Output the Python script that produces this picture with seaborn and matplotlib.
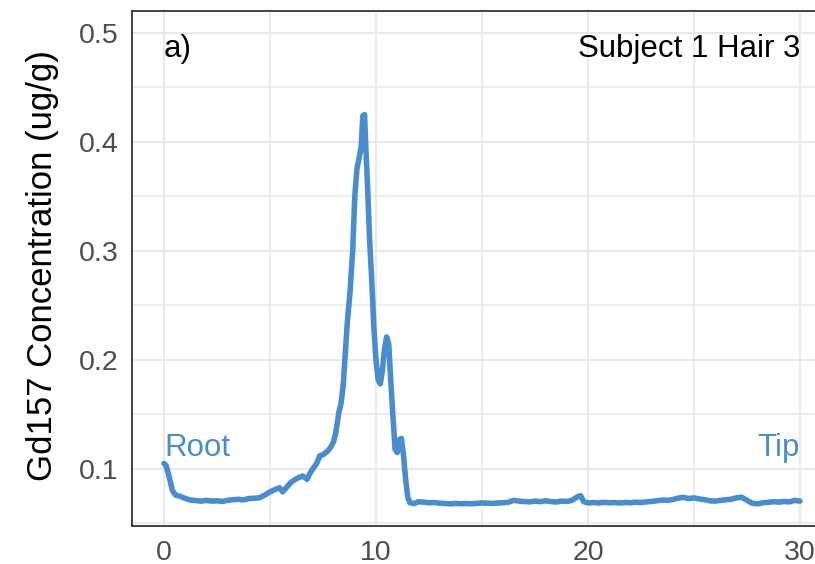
import numpy as np
import pandas as pd
import matplotlib
matplotlib.use("Agg")
import matplotlib.pyplot as plt
import seaborn as sns

# Gd157 concentration profile along the hair (root -> tip), distance in mm
distance = [
    0.00, 0.10, 0.20, 0.30, 0.40, 0.55, 0.75, 1.00, 1.25, 1.50, 1.75, 2.00,
    2.25, 2.50, 2.75, 3.00, 3.25, 3.50, 3.75, 4.00, 4.25, 4.50, 4.75, 5.00,
    5.25, 5.45, 5.60, 5.80, 6.00, 6.20, 6.40, 6.55, 6.75, 6.90, 7.05, 7.20,
    7.35, 7.50, 7.70, 7.85, 8.00, 8.10, 8.25, 8.35, 8.45, 8.55, 8.65, 8.77,
    8.90, 9.00, 9.10, 9.20, 9.30, 9.38, 9.46, 9.52, 9.60, 9.70, 9.80, 9.90,
    10.00, 10.10, 10.20, 10.30, 10.40, 10.50, 10.60, 10.70, 10.80, 10.90,
    11.00, 11.10, 11.20, 11.30, 11.40, 11.50, 11.60, 11.80,
    12.00, 12.25, 12.50, 12.75, 13.00, 13.25, 13.50, 13.75, 14.00, 14.25,
    14.50, 14.75, 15.00, 15.25, 15.50, 15.75, 16.00, 16.25, 16.50, 16.75,
    17.00, 17.25, 17.50, 17.75, 18.00, 18.25, 18.50, 18.75, 19.00, 19.25,
    19.50, 19.65, 19.80, 20.00, 20.25, 20.50, 20.75, 21.00, 21.25, 21.50,
    21.75, 22.00, 22.25, 22.50, 22.75, 23.00, 23.25, 23.50, 23.75, 24.00,
    24.25, 24.50, 24.75, 25.00, 25.25, 25.50, 25.75, 26.00, 26.25, 26.50,
    26.75, 27.00, 27.25, 27.50, 27.75, 28.00, 28.25, 28.50, 28.75, 29.00,
    29.25, 29.50, 29.75, 30.00,
]
gd157 = [
    0.105, 0.103, 0.096, 0.088, 0.080, 0.076, 0.075, 0.0730, 0.0715, 0.0710,
    0.0705, 0.0712, 0.0705, 0.0708, 0.0702, 0.0712, 0.0718, 0.0722, 0.0716,
    0.0728, 0.0732, 0.0735, 0.0760, 0.0790, 0.0812, 0.0828, 0.0790, 0.0835,
    0.0880, 0.0905, 0.0925, 0.0935, 0.0905, 0.0965, 0.1010, 0.1050, 0.1120,
    0.1130, 0.1160, 0.1195, 0.1250, 0.1330, 0.1520, 0.1600, 0.1760, 0.2050,
    0.2350, 0.2610, 0.3000, 0.3500, 0.3750, 0.3850, 0.3950, 0.4240, 0.4250,
    0.3950, 0.3600, 0.3100, 0.2730, 0.2300, 0.2000, 0.1820, 0.1780, 0.1900,
    0.2100, 0.2210, 0.2150, 0.1800, 0.1480, 0.1180, 0.1150, 0.1270, 0.1280,
    0.1120, 0.0900, 0.0740, 0.0690, 0.0682,
    0.0700, 0.0695, 0.0690, 0.0692, 0.0686, 0.0683, 0.0680, 0.0684, 0.0681,
    0.0683, 0.0681, 0.0684, 0.0688, 0.0686, 0.0684, 0.0688, 0.0690, 0.0695,
    0.0712, 0.0705, 0.0702, 0.0698, 0.0705, 0.0700, 0.0708, 0.0701, 0.0697,
    0.0705, 0.0702, 0.0712, 0.0745, 0.0755, 0.0700, 0.0688, 0.0692, 0.0688,
    0.0694, 0.0690, 0.0692, 0.0688, 0.0693, 0.0690, 0.0695, 0.0692, 0.0698,
    0.0702, 0.0708, 0.0715, 0.0712, 0.0720, 0.0732, 0.0740, 0.0728, 0.0735,
    0.0725, 0.0718, 0.0708, 0.0705, 0.0712, 0.0718, 0.0722, 0.0735, 0.0740,
    0.0712, 0.0685, 0.0680, 0.0690, 0.0694, 0.0700, 0.0696, 0.0702, 0.0698,
    0.0712, 0.0705,
]

x_ticks = [0, 10, 20, 30]
y_ticks = [0.1, 0.2, 0.3, 0.4, 0.5]
x_minor = [5, 15, 25]
y_minor = [0.05, 0.15, 0.25, 0.35, 0.45]

df = pd.DataFrame({"distance": distance, "gd157": gd157})

sns.set_style("white")
plt.rcParams["font.family"] = ["Liberation Sans", "DejaVu Sans"]

line_color = "#4a8dcc"
ink = "#333333"

fig = plt.figure(figsize=(8.15, 5.64), dpi=100)
ax = fig.add_axes([0.1622, 0.0674, 0.8584, 0.9131])

sns.lineplot(data=df, x="distance", y="gd157", ax=ax, color=line_color,
             linewidth=4.0, zorder=3, solid_joinstyle="round",
             solid_capstyle="round")

ax.set_xlim(-1.5, 31.5)
ax.set_ylim(0.0477, 0.520)

ax.set_xticks(x_ticks)
ax.set_xticklabels([str(v) for v in x_ticks])
ax.set_yticks(y_ticks)
ax.set_yticklabels([f"{v:.1f}" for v in y_ticks])
ax.set_xticks(x_minor, minor=True)
ax.set_yticks(y_minor, minor=True)

ax.grid(which="major", color="#e8e8e8", linewidth=1.4, zorder=0)
ax.grid(which="minor", color="#e8e8e8", linewidth=1.1, zorder=0)
ax.set_axisbelow(True)

for side in ["left", "bottom", "top", "right"]:
    ax.spines[side].set_color(ink)
    ax.spines[side].set_linewidth(1.3)

ax.tick_params(which="major", length=6.5, width=1.2, color=ink,
               labelsize=20.5, labelcolor="#4d4d4d", pad=3.5)
ax.tick_params(which="minor", length=0)

ax.set_xlabel("")
ax.set_ylabel("Gd157 Concentration (ug/g)", fontsize=25, color="black",
              va="center")
ax.yaxis.set_label_coords(-0.1275, 0.505)

ax.text(0, 0.478, "a)", fontsize=22.5, color="black", ha="left",
        va="baseline")
ax.text(30, 0.478, "Subject 1 Hair 3", fontsize=22.5, color="black",
        ha="right", va="baseline")
ax.text(0, 0.112, "Root", fontsize=22.5, color=line_color, ha="left",
        va="baseline")
ax.text(30, 0.112, "Tip", fontsize=22.5, color=line_color, ha="right",
        va="baseline")

fig.savefig("out.png", dpi=100)
